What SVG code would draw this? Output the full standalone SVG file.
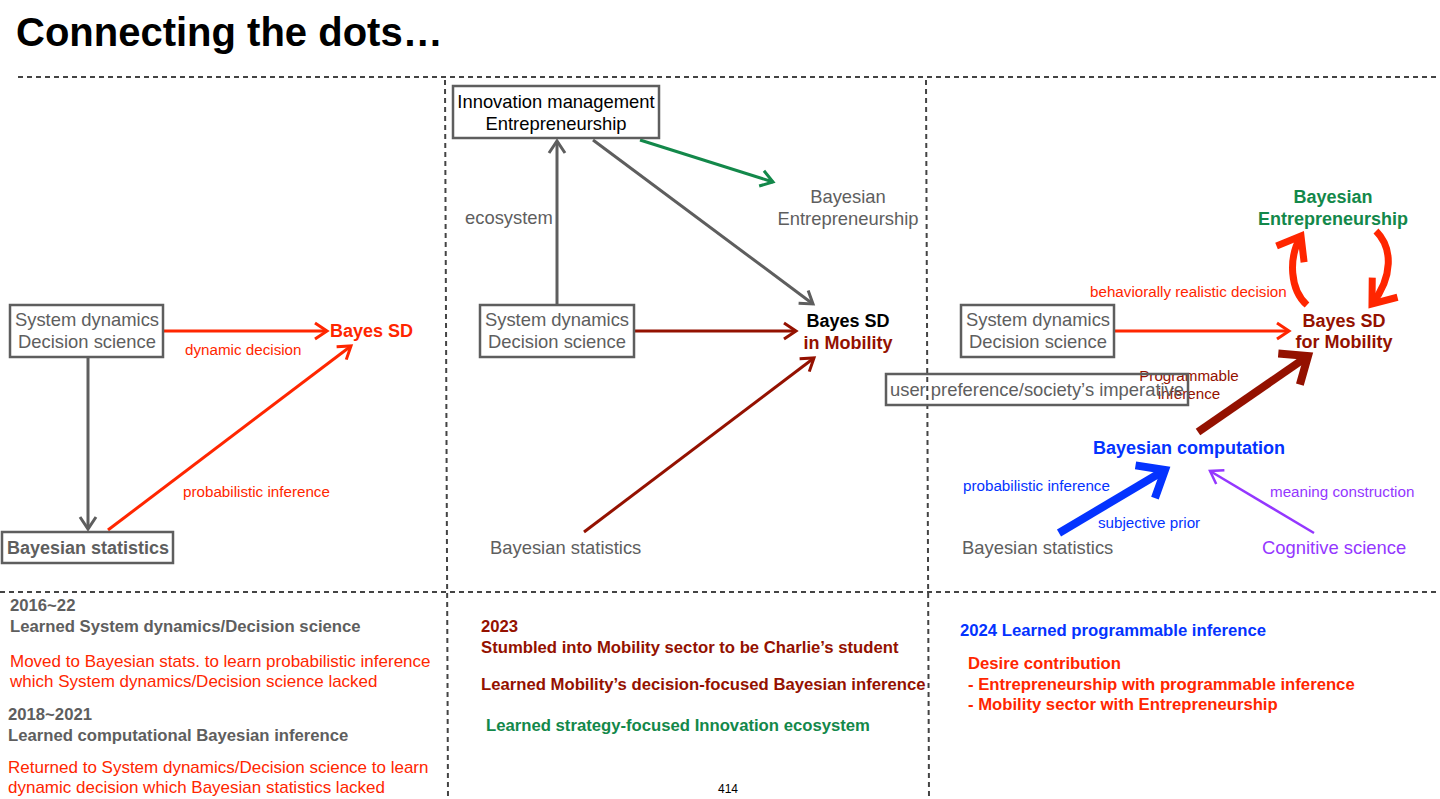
<svg xmlns="http://www.w3.org/2000/svg" width="1440" height="799" viewBox="0 0 1440 799">
<style>
text{font-family:"Liberation Sans",Arial,Helvetica,sans-serif}
.n{font-size:18.4px;fill:#5e5e5e}
.nb{font-size:18px;font-weight:bold}
.l{font-size:15.2px}
.box{fill:none;stroke:#5e5e5e;stroke-width:2.5}
.dash{stroke:#444;stroke-width:2;stroke-dasharray:5 4;fill:none}
.c{fill:none;stroke-linecap:butt}
.bt{font-size:16.7px;font-weight:bold}
.rt{font-size:17px;fill:#ff2600}
</style>
<defs>
<marker id="mRed" markerUnits="userSpaceOnUse" markerWidth="20" markerHeight="22" viewBox="0 0 20 22" refX="15" refY="11" orient="auto"><path d="M3,3 L15,11 L3,19" fill="none" stroke="#ff2600" stroke-width="3"/></marker>
<marker id="mGray" markerUnits="userSpaceOnUse" markerWidth="20" markerHeight="22" viewBox="0 0 20 22" refX="15" refY="11" orient="auto"><path d="M3,3 L15,11 L3,19" fill="none" stroke="#5e5e5e" stroke-width="3"/></marker>
<marker id="mGreen" markerUnits="userSpaceOnUse" markerWidth="20" markerHeight="22" viewBox="0 0 20 22" refX="15" refY="11" orient="auto"><path d="M3,3 L15,11 L3,19" fill="none" stroke="#13884a" stroke-width="3"/></marker>
<marker id="mDark" markerUnits="userSpaceOnUse" markerWidth="20" markerHeight="22" viewBox="0 0 20 22" refX="15" refY="11" orient="auto"><path d="M3,3 L15,11 L3,19" fill="none" stroke="#941100" stroke-width="3"/></marker>
<marker id="mPurple" markerUnits="userSpaceOnUse" markerWidth="20" markerHeight="22" viewBox="0 0 20 22" refX="15" refY="11" orient="auto"><path d="M3,3 L15,11 L3,19" fill="none" stroke="#9437ff" stroke-width="2.5"/></marker>
<marker id="mDarkT" markerUnits="userSpaceOnUse" markerWidth="36" markerHeight="48" viewBox="0 0 36 48" refX="28" refY="24" orient="auto"><path d="M5,5 L28,24 L5,43" fill="none" stroke="#941100" stroke-width="8"/></marker>
<marker id="mBlueT" markerUnits="userSpaceOnUse" markerWidth="36" markerHeight="48" viewBox="0 0 36 48" refX="28" refY="24" orient="auto"><path d="M5,5 L28,24 L5,43" fill="none" stroke="#0433ff" stroke-width="8"/></marker>
<marker id="mRedT" markerUnits="userSpaceOnUse" markerWidth="36" markerHeight="44" viewBox="0 0 36 44" refX="26" refY="22" orient="auto"><path d="M5,6 L26,22 L5,38" fill="none" stroke="#ff2600" stroke-width="7"/></marker>
</defs>

<text x="16" y="46" font-size="40" font-weight="bold" fill="#000">Connecting the dots…</text>

<g id="dividers">
<line class="dash" x1="18" y1="77" x2="1440" y2="77"/>
<line class="dash" x1="0" y1="592" x2="1440" y2="592"/>
<line class="dash" x1="445" y1="80" x2="448" y2="799"/>
<line class="dash" x1="926" y1="80" x2="929" y2="799"/>
</g>

<g id="connectors">
<line class="c" x1="163" y1="331" x2="327" y2="331" stroke="#ff2600" stroke-width="3" marker-end="url(#mRed)"/>
<line class="c" x1="88" y1="357" x2="88" y2="529" stroke="#5e5e5e" stroke-width="3" marker-end="url(#mGray)"/>
<line class="c" x1="108" y1="530" x2="351" y2="346" stroke="#ff2600" stroke-width="3" marker-end="url(#mRed)"/>

<line class="c" x1="557" y1="304" x2="557" y2="141" stroke="#5e5e5e" stroke-width="3" marker-end="url(#mGray)"/>
<line class="c" x1="593" y1="140" x2="813" y2="304" stroke="#5e5e5e" stroke-width="3" marker-end="url(#mGray)"/>
<line class="c" x1="640" y1="140" x2="773" y2="182" stroke="#13884a" stroke-width="3" marker-end="url(#mGreen)"/>
<line class="c" x1="635" y1="331" x2="796" y2="331" stroke="#941100" stroke-width="3" marker-end="url(#mDark)"/>
<line class="c" x1="584" y1="532" x2="814" y2="358" stroke="#941100" stroke-width="3" marker-end="url(#mDark)"/>

<line class="c" x1="1114" y1="331" x2="1289" y2="331" stroke="#ff2600" stroke-width="3" marker-end="url(#mRed)"/>
<path class="c" d="M1307,305 C1290,290 1288,258 1301,236" stroke="#ff2600" stroke-width="7" marker-end="url(#mRedT)"/>
<path class="c" d="M1376,231 C1393,248 1393,277 1372,304" stroke="#ff2600" stroke-width="7" marker-end="url(#mRedT)"/>
<line class="c" x1="1198" y1="432" x2="1308" y2="356" stroke="#941100" stroke-width="8" marker-end="url(#mDarkT)"/>
<line class="c" x1="1059" y1="533" x2="1165" y2="470" stroke="#0433ff" stroke-width="8" marker-end="url(#mBlueT)"/>
<line class="c" x1="1314" y1="533" x2="1210" y2="471" stroke="#9437ff" stroke-width="2.5" marker-end="url(#mPurple)"/>
</g>

<g id="edge-labels">
<text class="l" x="185" y="355" fill="#ff2600">dynamic decision</text>
<text class="l" x="183" y="497" fill="#ff2600">probabilistic inference</text>
<text x="465" y="224" class="n">ecosystem</text>
<text class="l" x="1090" y="297" fill="#ff2600">behaviorally realistic decision</text>
<text class="l" x="1189" y="381" fill="#941100" text-anchor="middle">Programmable</text>
<text class="l" x="1189" y="399" fill="#941100" text-anchor="middle">inference</text>
<text class="l" x="963" y="491" fill="#0433ff">probabilistic inference</text>
<text class="l" x="1098" y="528" fill="#0433ff">subjective prior</text>
<text class="l" x="1270" y="497" fill="#9437ff">meaning construction</text>
</g>

<g id="p1-sd">
<rect class="box" x="10" y="305" width="153" height="52"/>
<text class="n" x="87" y="326" text-anchor="middle">System dynamics</text>
<text class="n" x="87" y="348" text-anchor="middle">Decision science</text>
</g>
<g id="p1-bayessd"><text class="nb" x="330" y="337" fill="#ff2600">Bayes SD</text></g>
<g id="p1-bstat">
<rect class="box" x="2" y="532" width="171" height="31"/>
<text class="nb" x="88" y="554" fill="#5e5e5e" text-anchor="middle">Bayesian statistics</text>
</g>

<g id="p2-innov">
<rect class="box" x="453" y="86" width="206" height="52"/>
<text x="556" y="108" font-size="18.4" fill="#000" text-anchor="middle">Innovation management</text>
<text x="556" y="130" font-size="18.4" fill="#000" text-anchor="middle">Entrepreneurship</text>
</g>
<g id="p2-bent">
<text class="n" x="848" y="203" text-anchor="middle">Bayesian</text>
<text class="n" x="848" y="225" text-anchor="middle">Entrepreneurship</text>
</g>
<g id="p2-sd">
<rect class="box" x="480" y="305" width="154" height="52"/>
<text class="n" x="557" y="326" text-anchor="middle">System dynamics</text>
<text class="n" x="557" y="348" text-anchor="middle">Decision science</text>
</g>
<g id="p2-bayessd">
<text class="nb" x="848" y="327" fill="#000" text-anchor="middle">Bayes SD</text>
<text class="nb" x="848" y="349" fill="#941100" text-anchor="middle">in Mobility</text>
</g>
<g id="p2-bstat"><text class="n" x="490" y="554">Bayesian statistics</text></g>

<g id="p3-bent">
<text class="nb" x="1333" y="203" fill="#13884a" text-anchor="middle">Bayesian</text>
<text class="nb" x="1333" y="225" fill="#13884a" text-anchor="middle">Entrepreneurship</text>
</g>
<g id="p3-sd">
<rect class="box" x="961" y="305" width="153" height="52"/>
<text class="n" x="1038" y="326" text-anchor="middle">System dynamics</text>
<text class="n" x="1038" y="348" text-anchor="middle">Decision science</text>
</g>
<g id="p3-bayessd">
<text class="nb" x="1344" y="327" fill="#941100" text-anchor="middle">Bayes SD</text>
<text class="nb" x="1344" y="348" fill="#941100" text-anchor="middle">for Mobility</text>
</g>
<g id="p3-user">
<rect class="box" x="886" y="374" width="302" height="31"/>
<text class="n" x="1037" y="396" text-anchor="middle">user preference/society’s imperative</text>
</g>
<g id="p3-bcomp"><text class="nb" x="1189" y="454" fill="#0433ff" text-anchor="middle">Bayesian computation</text></g>
<g id="p3-bstat"><text class="n" x="962" y="554">Bayesian statistics</text></g>
<g id="p3-cog"><text class="n" x="1262" y="554" style="fill:#9437ff">Cognitive science</text></g>

<g id="notes-1">
<text class="bt" x="10" y="611" fill="#5e5e5e">2016~22</text>
<text class="bt" x="10" y="632" fill="#5e5e5e">Learned System dynamics/Decision science</text>
<text class="rt" x="10" y="667">Moved to Bayesian stats. to learn probabilistic inference</text>
<text class="rt" x="10" y="687">which System dynamics/Decision science lacked</text>
<text class="bt" x="8" y="720" fill="#5e5e5e">2018~2021</text>
<text class="bt" x="8" y="741" fill="#5e5e5e">Learned computational Bayesian inference</text>
<text class="rt" x="8" y="773">Returned to System dynamics/Decision science to learn</text>
<text class="rt" x="8" y="793">dynamic decision which Bayesian statistics lacked</text>
</g>
<g id="notes-2">
<text class="bt" x="481" y="632" fill="#941100">2023</text>
<text class="bt" x="481" y="653" fill="#941100">Stumbled into Mobility sector to be Charlie’s student</text>
<text class="bt" x="481" y="690" fill="#941100">Learned Mobility’s decision-focused Bayesian inference</text>
<text class="bt" x="486" y="731" fill="#13884a">Learned strategy-focused Innovation ecosystem</text>
<text x="728" y="793" font-size="12" fill="#000" text-anchor="middle">414</text>
</g>
<g id="notes-3">
<text class="bt" x="960" y="636" fill="#0433ff">2024 Learned programmable inference</text>
<text class="bt" x="968" y="669" fill="#ff2600">Desire contribution</text>
<text class="bt" x="968" y="690" fill="#ff2600">- Entrepreneurship with programmable inference</text>
<text class="bt" x="968" y="710" fill="#ff2600">- Mobility sector with Entrepreneurship</text>
</g>
</svg>
